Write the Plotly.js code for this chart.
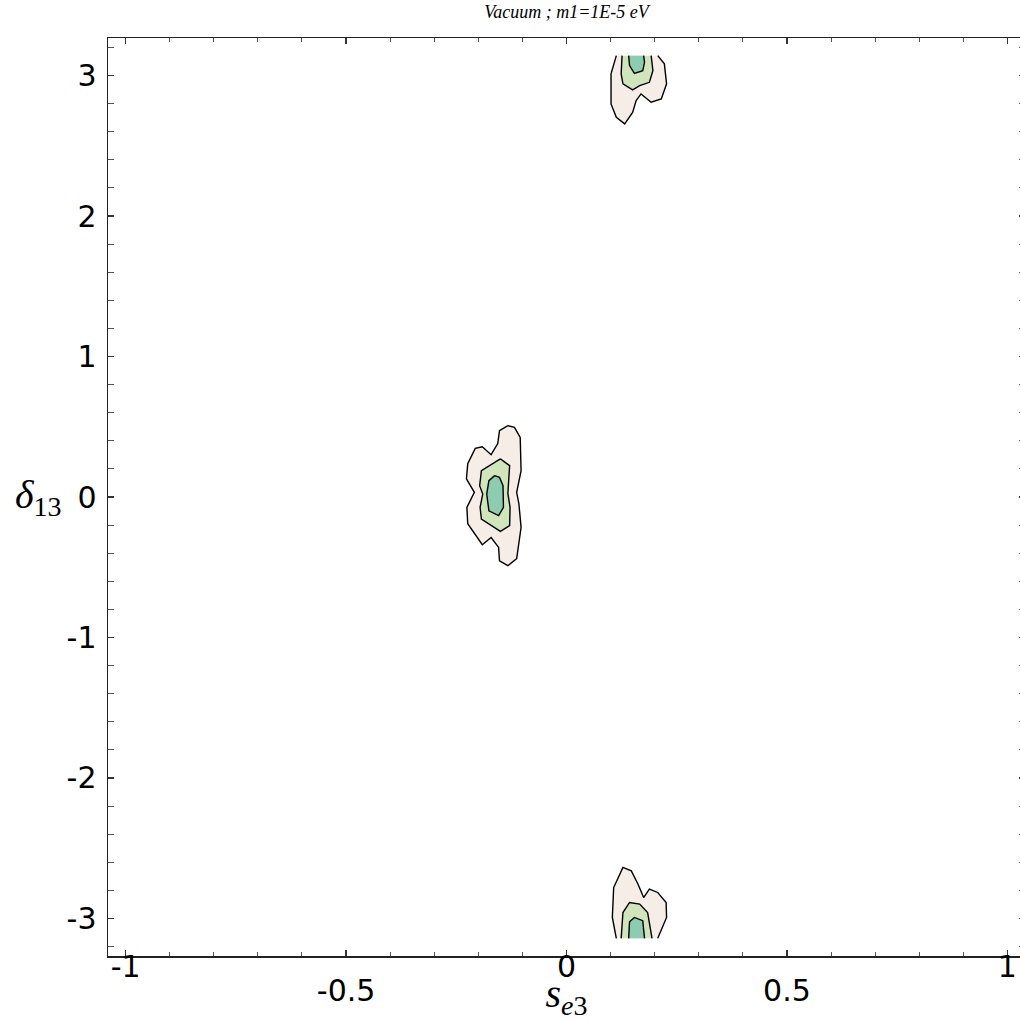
<!DOCTYPE html>
<html>
<head>
<meta charset="utf-8">
<script src="https://cdn.plot.ly/plotly-3.0.1.min.js"></script>
<style>
html, body { margin: 0; padding: 0; overflow: hidden; background: #fff; }
#chart { width: 1030px; height: 1021px; }
</style>
</head>
<body>
<div id="chart"></div>
<script>
// ---- Data (s_e3, delta_13) ----
const PI = Math.PI;

// central island (around s_e3 ~ -0.16, delta ~ 0)
const centerOuterX = [-0.133,-0.152,-0.156,-0.171,-0.191,-0.207,-0.224,-0.227,-0.209,-0.226,-0.224,-0.191,-0.171,-0.154,-0.152,-0.133,-0.113,-0.103,-0.108,-0.113,-0.103,-0.105,-0.118,-0.133];
const centerOuterY = [0.508,0.472,0.380,0.301,0.358,0.346,0.237,0.130,0.033,-0.074,-0.190,-0.340,-0.288,-0.359,-0.454,-0.489,-0.439,-0.216,-0.048,0.033,0.187,0.424,0.496,0.508];
const centerMidX = [-0.150,-0.193,-0.197,-0.190,-0.196,-0.193,-0.150,-0.129,-0.128,-0.133,-0.129,-0.150];
const centerMidY = [0.271,0.187,0.080,0.021,-0.074,-0.157,-0.245,-0.204,-0.074,0.026,0.223,0.271];
const centerInnerX = [-0.163,-0.176,-0.181,-0.176,-0.154,-0.143,-0.144,-0.152,-0.163];
const centerInnerY = [0.152,0.116,0.021,-0.098,-0.133,-0.074,0.080,0.140,0.152];

// upper island (cut by delta = +pi)
const topOuterX = [0.113,0.101,0.101,0.113,0.132,0.150,0.158,0.169,0.192,0.215,0.227,0.222,0.207];
const topOuterY = [PI,3.012,2.798,2.703,2.656,2.738,2.822,2.869,2.810,2.834,2.941,3.083,PI];
const topMidX = [0.126,0.124,0.128,0.150,0.166,0.188,0.196,0.192];
const topMidY = [PI,3.012,2.941,2.898,2.928,2.952,3.035,PI];
const topInnerX = [0.141,0.143,0.154,0.173,0.177,0.175];
const topInnerY = [PI,3.071,3.016,3.035,3.094,PI];

// lower island (cut by delta = -pi)
const bottomOuterX = [0.113,0.104,0.107,0.128,0.147,0.162,0.175,0.188,0.207,0.226,0.227,0.215,0.207];
const bottomOuterY = [-PI,-2.993,-2.780,-2.637,-2.661,-2.755,-2.851,-2.791,-2.815,-2.886,-2.993,-3.088,-PI];
const bottomMidX = [0.124,0.128,0.143,0.166,0.184,0.194];
const bottomMidY = [-PI,-2.958,-2.886,-2.898,-2.958,-PI];
const bottomInnerX = [0.141,0.143,0.154,0.173,0.177];
const bottomInnerY = [-PI,-3.024,-2.993,-3.016,-PI];

// ticks
const xMajorVals = [-1,-0.5,0,0.5,1];
const xUpperLabels = ['-1','','0','','1'];
const xLowerVals = [-0.5,0.5];
const xLowerLabels = ['-0.5','0.5'];
const yTickVals = [-3,-2,-1,0,1,2,3];
const yTickLabels = ['-3','-2','-1','0','1','2','3'];

// ---- Styling ----
const colOuter = '#f6ede6';
const colMid = '#d0e5bb';
const colInner = '#8dccb0';
const lineStyle = {color:'#000', width:1.4};

function region(x, y, fillcolor) {
  return {type:'scatter', mode:'lines', x:x, y:y, fill:'toself', fillcolor:fillcolor,
          line:lineStyle, hoverinfo:'skip', showlegend:false};
}

const traces = [
  region(centerOuterX, centerOuterY, colOuter),
  region(centerMidX, centerMidY, colMid),
  region(centerInnerX, centerInnerY, colInner),
  region(topOuterX, topOuterY, colOuter),
  region(topMidX, topMidY, colMid),
  region(topInnerX, topInnerY, colInner),
  region(bottomOuterX, bottomOuterY, colOuter),
  region(bottomMidX, bottomMidY, colMid),
  region(bottomInnerX, bottomInnerY, colInner),
  {type:'scatter', mode:'markers', x:[0], y:[0], xaxis:'x2', yaxis:'y',
   marker:{opacity:0}, hoverinfo:'skip', showlegend:false}
];

const tickFont = {family:'DejaVu Sans', size:30, color:'#000'};
const xRange = [-1.04, 1.04];
const yRange = [-1.04*PI, 1.04*PI];

const layout = {
  width:1030, height:1021,
  margin:{l:108, r:5, t:38, b:65},
  paper_bgcolor:'#fff', plot_bgcolor:'#fff',
  showlegend:false,
  title:{text:'<i>Vacuum ; m1=1E-5 eV</i>', font:{family:'Liberation Serif', size:18, color:'#000'},
         x:0.5, xref:'paper', xanchor:'center', y:1-12/1021, yref:'container', yanchor:'middle'},
  xaxis:{range:xRange, tickmode:'array', tickvals:xMajorVals, ticktext:xUpperLabels,
         ticks:'inside', ticklen:6, tickwidth:1.2, tickcolor:'#333',
         showline:true, linecolor:'#222', linewidth:1.5, mirror:'allticks',
         showgrid:false, zeroline:false, tickfont:tickFont, ticklabelstandoff:-17,
         minor:{dtick:0.1, tick0:0, ticks:'inside', ticklen:4, tickwidth:1, tickcolor:'#555', showgrid:false},
         title:{text:'<i>s</i><sub><i>e</i>3</sub>', font:{family:'Liberation Serif', size:40, color:'#000'}, standoff:22}},
  xaxis2:{range:xRange, overlaying:'x', anchor:'y', side:'bottom', tickmode:'array',
          tickvals:xLowerVals, ticktext:xLowerLabels, ticks:'', showline:false, showgrid:false,
          zeroline:false, tickfont:tickFont, ticklabelstandoff:14},
  yaxis:{range:yRange, tickmode:'array', tickvals:yTickVals, ticktext:yTickLabels,
         ticks:'inside', ticklen:6, tickwidth:1.2, tickcolor:'#333',
         showline:true, linecolor:'#222', linewidth:1.5, mirror:'allticks',
         showgrid:false, zeroline:false, tickfont:tickFont, ticklabelstandoff:4,
         minor:{dtick:0.2, tick0:0, ticks:'inside', ticklen:4, tickwidth:1, tickcolor:'#555', showgrid:false}},
  annotations:[
    {text:'<i>δ</i><sub>13</sub>', xref:'paper', yref:'y', x:(38-108)/917, y:0,
     xanchor:'center', yanchor:'middle', showarrow:false,
     font:{family:'Liberation Serif', size:40, color:'#000'}}
  ]
};

Plotly.newPlot('chart', traces, layout, {staticPlot:true, displayModeBar:false});
</script>
</body>
</html>
